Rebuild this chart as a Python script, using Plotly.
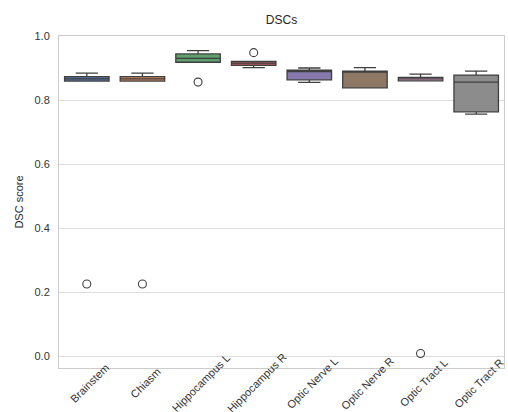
import plotly.graph_objects as go

# Structures and per-structure box statistics of the Dice similarity coefficient
structures = ["Brainstem", "Chiasm", "Hippocampus L", "Hippocampus R",
              "Optic Nerve L", "Optic Nerve R", "Optic Tract L", "Optic Tract R"]
lower_whisker = [0.859, 0.859, 0.918, 0.901, 0.855, 0.838, 0.860, 0.756]
q1_values     = [0.859, 0.859, 0.918, 0.908, 0.863, 0.838, 0.860, 0.763]
medians       = [0.866, 0.866, 0.930, 0.915, 0.889, 0.888, 0.866, 0.856]
q3_values     = [0.873, 0.873, 0.944, 0.921, 0.893, 0.890, 0.871, 0.878]
upper_whisker = [0.884, 0.884, 0.954, 0.921, 0.900, 0.901, 0.881, 0.890]

# Outliers beyond the whiskers
outlier_structures = ["Brainstem", "Chiasm", "Hippocampus L", "Hippocampus R", "Optic Tract L"]
outlier_values     = [0.225, 0.225, 0.856, 0.948, 0.008]

y_ticks = [0.0, 0.2, 0.4, 0.6, 0.8, 1.0]

box_colors = ["#5975a4", "#cc8963", "#5f9e6e", "#b55d60",
              "#857aab", "#8d7866", "#d095bf", "#8c8c8c"]
edge_color = "#3f3f3f"
font_family = "Liberation Sans, Arial, sans-serif"

fig = go.Figure()

for i, name in enumerate(structures):
    fig.add_trace(go.Box(
        x=[name],
        q1=[q1_values[i]],
        median=[medians[i]],
        q3=[q3_values[i]],
        lowerfence=[lower_whisker[i]],
        upperfence=[upper_whisker[i]],
        width=0.8,
        whiskerwidth=0.5,
        fillcolor=box_colors[i],
        line=dict(color=edge_color, width=1.3),
        boxpoints=False,
        showlegend=False,
    ))

fig.add_trace(go.Scatter(
    x=outlier_structures,
    y=outlier_values,
    mode="markers",
    marker=dict(symbol="circle-open", size=8, color=edge_color,
                line=dict(width=1.1, color=edge_color)),
    showlegend=False,
    hoverinfo="y",
))

# Category labels rotated 45 degrees and centred under each tick
for name in structures:
    fig.add_annotation(
        x=name, xref="x",
        y=-0.046, yref="paper",
        text=name,
        textangle=-45,
        showarrow=False,
        xanchor="center", yanchor="middle",
        xshift=3,
        font=dict(size=11, color="#333333"),
    )

fig.update_layout(
    width=508,
    height=412,
    margin=dict(l=59, r=4, t=36, b=44),
    paper_bgcolor="white",
    plot_bgcolor="white",
    boxmode="overlay",
    font=dict(family=font_family, size=11, color="#333333"),
    title=dict(text="DSCs", x=0.5, xref="paper", xanchor="center",
               y=0.951, yref="container", yanchor="middle",
               font=dict(size=12, color="#262626")),
)

fig.update_xaxes(
    type="category",
    categoryorder="array",
    categoryarray=structures,
    range=[-0.5, len(structures) - 0.5],
    showticklabels=False,
    showgrid=False,
    showline=True,
    mirror=True,
    linecolor="#cccccc",
    linewidth=1,
    ticks="",
)

fig.update_yaxes(
    range=[-0.0375, 1.0],
    tickvals=y_ticks,
    tickformat=".1f",
    showgrid=True,
    gridcolor="#dcdcdc",
    gridwidth=1,
    zeroline=False,
    showline=True,
    mirror=True,
    linecolor="#cccccc",
    linewidth=1,
    ticks="",
    ticklabelstandoff=6,
    title=dict(text="DSC score", font=dict(size=11, color="#262626"), standoff=8),
    tickfont=dict(size=11, color="#333333"),
)

fig.write_html("out.html")
